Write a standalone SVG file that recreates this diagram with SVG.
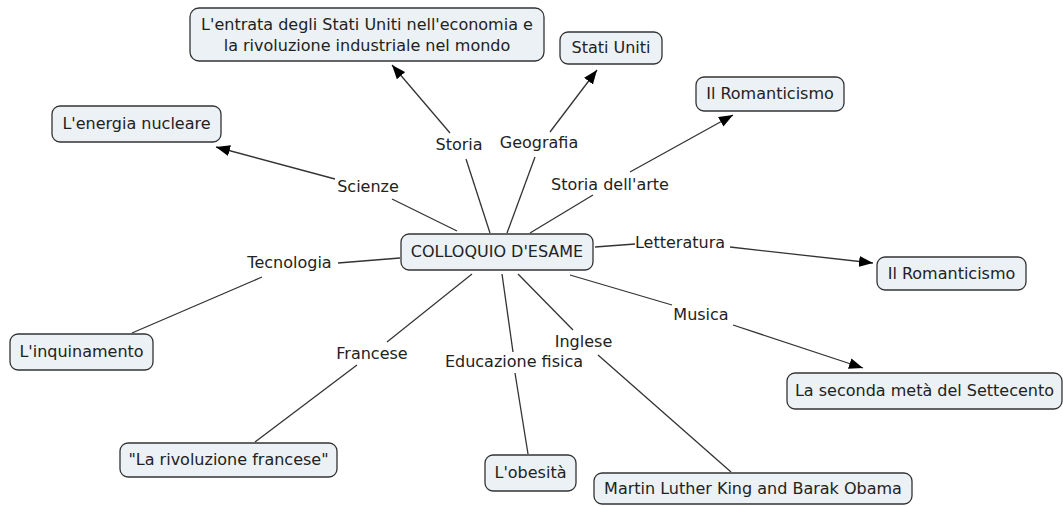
<svg xmlns="http://www.w3.org/2000/svg" width="1063" height="506" viewBox="0 0 1063 506">
<style>
.node rect{fill:#ebf1f4;stroke:#333;stroke-width:1.3}
.node text,.lbl{font-family:"DejaVu Sans",Verdana,sans-serif;font-size:16px;fill:#222;text-anchor:middle}
.conn line{stroke:#333;stroke-width:1.3}
.arr{marker-end:url(#ah)}
</style>
<defs>
<marker id="ah" markerUnits="userSpaceOnUse" markerWidth="15" markerHeight="11" refX="14" refY="5.5" orient="auto">
<path d="M0,0 L14,5.5 L0,11 z" fill="#000"/>
</marker>
</defs>
<rect width="1063" height="506" fill="#fff"/>
<g id="connectors" class="conn">
<line x1="490" y1="233" x2="466" y2="159"/>
<line class="arr" x1="450" y1="133" x2="392" y2="65"/>
<line x1="507" y1="233" x2="535" y2="157"/>
<line class="arr" x1="550" y1="132" x2="597" y2="70"/>
<line x1="457" y1="231" x2="392" y2="199"/>
<line class="arr" x1="335" y1="179" x2="216" y2="147"/>
<line x1="530" y1="233" x2="593" y2="195"/>
<line class="arr" x1="630" y1="172" x2="733" y2="115"/>
<line x1="595" y1="247" x2="635" y2="244"/>
<line class="arr" x1="730" y1="247" x2="873" y2="263"/>
<line x1="570" y1="275" x2="672" y2="305"/>
<line class="arr" x1="733" y1="325" x2="863" y2="368"/>
<line x1="518" y1="274" x2="573" y2="330"/>
<line x1="598" y1="355" x2="731" y2="472"/>
<line x1="502" y1="274" x2="513" y2="352"/>
<line x1="515" y1="373" x2="528" y2="454"/>
<line x1="472" y1="274" x2="387" y2="342"/>
<line x1="357" y1="365" x2="255" y2="442"/>
<line x1="400" y1="258" x2="338" y2="263"/>
<line x1="262" y1="277" x2="132" y2="333"/>
</g>
<g class="labels">
<text class="lbl" x="459" y="150">Storia</text>
<text class="lbl" x="539" y="148">Geografia</text>
<text class="lbl" x="368" y="192">Scienze</text>
<text class="lbl" x="610" y="190">Storia dell'arte</text>
<text class="lbl" x="680" y="248">Letteratura</text>
<text class="lbl" x="701" y="320">Musica</text>
<text class="lbl" x="289.5" y="268">Tecnologia</text>
<text class="lbl" x="372" y="359">Francese</text>
<text class="lbl" x="583.5" y="347">Inglese</text>
<text class="lbl" x="514" y="367">Educazione fisica</text>
</g>
<g id="n-center" class="node"><rect x="401" y="234" width="192" height="36" rx="8"/><text x="497" y="257">COLLOQUIO D'ESAME</text></g>
<g id="n-storia" class="node"><rect x="190" y="8" width="354" height="53" rx="9"/><text x="367" y="30">L'entrata degli Stati Uniti nell'economia e</text><text x="367" y="51">la rivoluzione industriale nel mondo</text></g>
<g id="n-geo" class="node"><rect x="560" y="32" width="102" height="32" rx="8"/><text x="611" y="53">Stati Uniti</text></g>
<g id="n-scienze" class="node"><rect x="52" y="106" width="169" height="36" rx="8"/><text x="136.5" y="129">L'energia nucleare</text></g>
<g id="n-arte" class="node"><rect x="696" y="77" width="148" height="34" rx="8"/><text x="770" y="99">Il Romanticismo</text></g>
<g id="n-lett" class="node"><rect x="877" y="257" width="149" height="33" rx="8"/><text x="951.5" y="279">Il Romanticismo</text></g>
<g id="n-musica" class="node"><rect x="787" y="373" width="275" height="36" rx="8"/><text x="924.5" y="396">La seconda metà del Settecento</text></g>
<g id="n-tecno" class="node"><rect x="10" y="334" width="143" height="36" rx="8"/><text x="81.5" y="357">L'inquinamento</text></g>
<g id="n-franc" class="node"><rect x="120" y="443" width="217" height="34" rx="8"/><text x="228.5" y="465">"La rivoluzione francese"</text></g>
<g id="n-edu" class="node"><rect x="485" y="455" width="91" height="36" rx="8"/><text x="530.5" y="478">L'obesità</text></g>
<g id="n-ingl" class="node"><rect x="594" y="473" width="318" height="31" rx="8"/><text x="753" y="494">Martin Luther King and Barak Obama</text></g>
</svg>
